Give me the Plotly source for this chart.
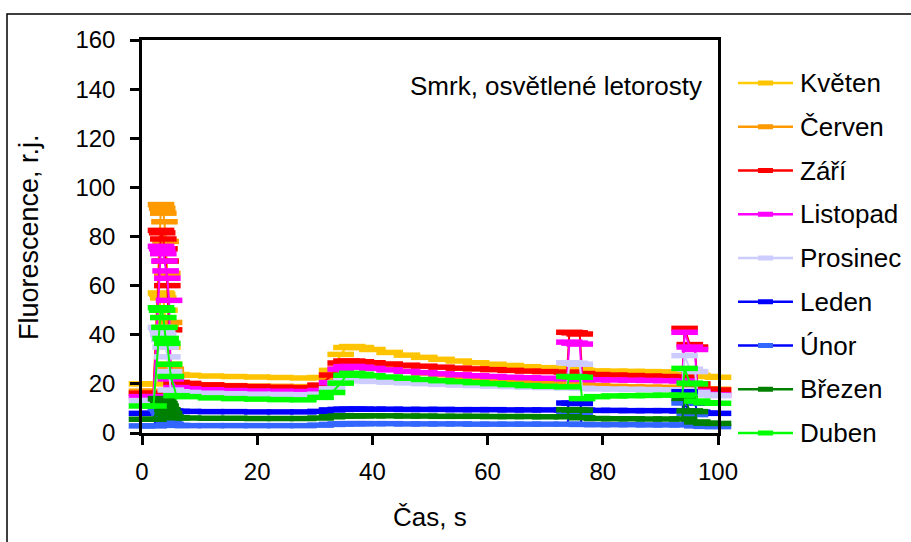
import plotly.graph_objects as go

# time axis (s)
time_s = [0, 2,
          3.3, 3.5, 3.7, 3.9, 4.1, 4.4, 4.7, 5.0,
          6, 8, 12, 16, 20, 24, 28,
          31, 33, 34.5, 35.5, 36.5, 38,
          40, 43, 46, 49, 52, 55, 58, 61, 64, 67, 70, 73.8,
          74.2, 75.1, 76.0,
          76.4, 79, 82, 85, 88, 91, 93.8,
          94.2, 95.1, 96.0,
          96.4, 98, 100]

kveten = [20.0, 20.0,
          57.0, 56.5, 55.0, 50.0, 43.0, 35.0, 28.0, 24.5,
          23.8, 23.5, 23.2, 23.0, 22.8, 22.6, 22.4,
          22.6, 25.5, 32.0, 34.8, 35.2, 34.8,
          34.0, 32.8, 31.7, 30.8, 30.0, 29.3, 28.6, 28.0, 27.5, 27.0, 26.6, 26.3,
          26.2, 26.0, 25.8,
          25.5, 25.3, 25.2, 25.1, 25.0, 24.9, 24.8,
          24.7, 24.5, 24.3,
          23.5, 23.0, 22.7]

cerven = [17.0, 17.0,
          93.0, 91.5, 89.5, 86.0, 78.0, 65.0, 45.0, 26.0,
          20.5, 20.0, 19.6, 19.3, 19.1, 19.0, 18.9,
          19.2, 22.0, 26.0, 27.5, 27.7, 27.3,
          26.8, 26.0, 25.2, 24.4, 23.7, 23.1, 22.5, 22.0, 21.5, 21.1, 20.7, 20.3,
          20.2, 20.1, 20.0,
          19.6, 19.3, 19.0, 18.8, 18.7, 18.6, 18.5,
          18.4, 18.3, 18.2,
          18.1, 18.0, 17.8]

zari = [16.2, 16.2,
        82.5, 81.5, 79.0, 75.0, 70.0, 60.0, 42.0, 23.0,
        20.6, 20.2, 19.6, 19.2, 18.9, 18.6, 18.4,
        19.5, 23.6, 28.5, 29.3, 29.3, 29.0,
        28.6, 28.1, 27.6, 27.2, 26.8, 26.4, 26.1, 25.8, 25.5, 25.2, 25.0, 24.8,
        41.0, 40.8, 40.3,
        24.2, 23.8, 23.6, 23.4, 23.2, 23.0, 22.8,
        42.6, 36.0, 35.0,
        20.0, 17.8, 17.5]

listopad = [14.8, 14.8,
            76.0, 75.0, 73.0, 70.0, 66.0, 63.0, 54.0, 22.0,
            18.5, 18.0, 17.6, 17.3, 17.1, 17.0, 16.9,
            17.3, 20.5, 26.0, 27.0, 27.1, 26.8,
            26.3, 25.7, 25.1, 24.6, 24.1, 23.7, 23.3, 23.0, 22.7, 22.5, 22.3, 22.1,
            37.0, 36.6, 36.2,
            21.8, 21.7, 21.6, 21.5, 21.4, 21.3, 21.2,
            41.0, 35.0, 34.0,
            17.0, 15.8, 15.5]

prosinec = [13.2, 13.2,
            43.0, 42.0, 40.0, 38.0, 35.0, 31.0, 25.0, 17.5,
            16.8, 16.5, 16.2, 16.0, 15.8, 15.7, 15.6,
            15.8, 18.0, 20.5, 21.3, 21.5, 21.3,
            21.0, 20.7, 20.4, 20.1, 19.8, 19.5, 19.3, 19.1, 18.9, 18.7, 18.5, 18.4,
            28.6, 28.4, 28.0,
            18.2, 18.0, 17.9, 17.8, 17.7, 17.6, 17.5,
            31.5, 26.0, 25.0,
            16.5, 15.5, 15.2]

leden = [8.0, 8.0,
         9.5, 9.6, 9.5, 9.3, 9.1, 9.0, 8.9, 8.8,
         8.8, 8.8, 8.7, 8.7, 8.6, 8.6, 8.6,
         8.8, 9.4, 9.6, 9.7, 9.7, 9.7,
         9.7, 9.7, 9.6, 9.6, 9.6, 9.5, 9.5, 9.5, 9.4, 9.4, 9.4, 9.4,
         12.2, 12.1, 12.0,
         9.3, 9.2, 9.2, 9.1, 9.1, 9.1, 9.0,
         16.8, 12.5, 12.2,
         8.5, 8.1, 8.0]

unor = [2.9, 2.9,
        10.0, 9.8, 9.0, 8.0, 7.0, 5.5, 4.5, 3.5,
        3.1, 3.0, 3.0, 3.0, 3.0, 3.0, 3.0,
        3.2, 3.5, 3.7, 3.8, 3.8, 3.8,
        3.8, 3.8, 3.7, 3.7, 3.7, 3.7, 3.6, 3.6, 3.6, 3.6, 3.6, 3.6,
        7.3, 7.2, 7.1,
        3.5, 3.4, 3.4, 3.4, 3.3, 3.3, 3.3,
        12.2, 8.0, 7.5,
        2.9, 2.7, 2.6]

brezen = [5.6, 5.6,
          14.0, 13.8, 13.0, 12.0, 11.0, 9.5, 8.0, 6.5,
          6.2, 6.1, 6.0, 6.0, 5.9, 5.9, 5.9,
          6.1, 6.6, 6.9, 7.0, 7.0, 7.0,
          7.0, 7.0, 6.9, 6.9, 6.8, 6.8, 6.8, 6.7, 6.7, 6.7, 6.6, 6.6,
          9.5, 9.4, 9.3,
          6.2, 5.9, 5.8, 5.8, 5.7, 5.7, 5.7,
          14.1, 9.0, 8.7,
          4.5, 4.0, 3.9]

duben = [11.0, 11.0,
         51.0, 50.0, 47.0, 43.0, 38.5, 36.5, 28.0, 23.0,
         15.2, 14.8, 14.3, 14.0, 13.8, 13.6, 13.5,
         14.5, 16.5, 20.3, 23.5, 24.3, 23.9,
         23.3, 22.8, 22.3, 21.8, 21.3, 20.9, 20.5, 20.1, 19.7, 19.3, 19.0, 18.8,
         23.0, 22.9, 22.7,
         14.0, 14.8, 15.1, 15.2, 15.3, 15.4, 15.4,
         26.3, 20.3, 20.0,
         13.0, 12.3, 12.1]

series_names = ["Květen", "Červen", "Září", "Listopad", "Prosinec",
                "Leden", "Únor", "Březen", "Duben"]
series_values = [kveten, cerven, zari, listopad, prosinec,
                 leden, unor, brezen, duben]
line_colors = ["#FFCC00", "#FF9900", "#FF0000", "#FF00FF", "#CCCCFF",
               "#0000FF", "#0000FF", "#008000", "#00FF00"]
marker_colors = ["#FFC400", "#FF9900", "#FF0000", "#FF00FF", "#CCCCFF",
                 "#0000FF", "#3366FF", "#008000", "#00FF00"]

FONT = "Arial, Liberation Sans, sans-serif"

# pixel geometry helpers (plot area 142..718 x, 40..433 y)
L, R, T, B = 142, 718, 40, 433
W, H = R - L, B - T
def px(x):
    return (x - L) / W
def py(y):
    return (B - y) / H

fig = go.Figure()
for name, vals, lc, mc in zip(series_names, series_values, line_colors, marker_colors):
    fig.add_trace(go.Scatter(
        x=time_s, y=vals, name=name, mode="lines+markers",
        line=dict(color=lc, width=2),
        marker=dict(symbol="line-ew", size=19, color=mc,
                    line=dict(color=mc, width=5.5)),
        cliponaxis=False, showlegend=False,
    ))

# hand-drawn legend (Excel style: long line with dash marker)
shapes = [dict(type="rect", xref="paper", yref="paper",
               x0=px(7), x1=px(920), y0=py(560), y1=py(14),
               line=dict(color="black", width=1.5), fillcolor="rgba(0,0,0,0)",
               layer="below")]
annotations = []
LEG_Y0, LEG_DY = 83, 43.75
for i, (name, lc, mc) in enumerate(zip(series_names, line_colors, marker_colors)):
    yy = py(LEG_Y0 + i * LEG_DY)
    shapes.append(dict(type="line", xref="paper", yref="paper",
                       x0=px(738), x1=px(793), y0=yy, y1=yy,
                       line=dict(color=lc, width=2.5)))
    shapes.append(dict(type="line", xref="paper", yref="paper",
                       x0=px(758), x1=px(773), y0=yy, y1=yy,
                       line=dict(color=mc, width=5)))
    annotations.append(dict(text=name, xref="paper", yref="paper",
                            x=px(798), y=yy, xanchor="left", yanchor="middle",
                            showarrow=False,
                            font=dict(family=FONT, size=26, color="black")))

annotations += [
    dict(text="Smrk, osvětlené letorosty", xref="paper", yref="paper",
         x=px(704), y=py(86), xanchor="right", yanchor="middle",
         showarrow=False, font=dict(family=FONT, size=26, color="black")),
    dict(text="Fluorescence, r.j.", xref="paper", yref="paper",
         x=px(29), y=py(237), xanchor="center", yanchor="middle", textangle=-90,
         showarrow=False, font=dict(family=FONT, size=27, color="black")),
    dict(text="Čas, s", xref="paper", yref="paper",
         x=px(430), y=py(517), xanchor="center", yanchor="middle",
         showarrow=False, font=dict(family=FONT, size=26, color="black")),
]

fig.update_layout(
    width=911, height=542,
    margin=dict(l=L, r=911 - R, t=T, b=542 - B),
    paper_bgcolor="white", plot_bgcolor="white",
    font=dict(family=FONT, size=24, color="black"),
    showlegend=False,
    xaxis=dict(
        range=[0, 100], dtick=20, tick0=0,
        showline=True, linecolor="black", linewidth=2.5, mirror=True,
        ticks="outside", ticklen=9, tickwidth=2.5, tickcolor="black",
        showgrid=False, zeroline=False,
        tickfont=dict(family=FONT, size=24, color="black"),
        ticklabelstandoff=6,
    ),
    yaxis=dict(
        range=[0, 160], dtick=20, tick0=0,
        showline=True, linecolor="black", linewidth=2.5, mirror=True,
        ticks="outside", ticklen=9, tickwidth=2.5, tickcolor="black",
        showgrid=False, zeroline=False,
        tickfont=dict(family=FONT, size=24, color="black"),
        ticklabelstandoff=10,
    ),
    shapes=shapes,
    annotations=annotations,
)

fig.write_html("out.html")
